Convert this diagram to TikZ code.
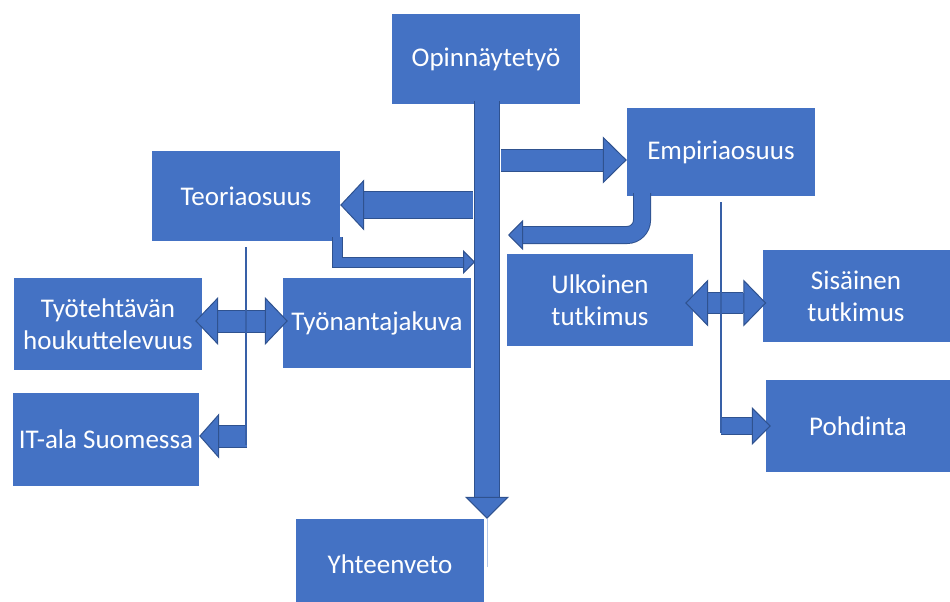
\documentclass[tikz,border=0pt]{standalone}
\usepackage{fontspec}
\setmainfont{Carlito}
\usetikzlibrary{arrows.meta}
\definecolor{boxblue}{HTML}{4472C4}
\definecolor{edgeblue}{HTML}{2F528F}

\begin{document}
\begin{tikzpicture}[x=1pt, y=-1pt,
    blk/.style n args={3}{draw=boxblue, line width=#1,
        -{Triangle[length=#2, width=#3, line width=1pt, color=edgeblue, fill=boxblue]},
        preaction={-, draw=edgeblue, line width=#1+2pt, shorten >=#2}},
    blkboth/.style n args={3}{draw=boxblue, line width=#1,
        {Triangle[length=#2, width=#3, line width=1pt, color=edgeblue, fill=boxblue]}-{Triangle[length=#2, width=#3, line width=1pt, color=edgeblue, fill=boxblue]},
        preaction={-, draw=edgeblue, line width=#1+2pt, shorten >=#2, shorten <=#2}}]
    \tikzstyle{box} = [fill=boxblue, text=white, minimum width=188pt, minimum height=90pt, inner sep=0pt, align=center, font=\fontsize{27}{32}\selectfont]
    \tikzstyle{thinline} = [draw=edgeblue!55!boxblue, line width=2.2pt]

    \useasboundingbox (0,0) rectangle (950,602);

    % Main parts
    \node[box] (opin) at (486,59) {Opinnäytetyö};
    \node[box, minimum height=88pt] (emp) at (721,152) {Empiriaosuus};
    \node[box] (teo) at (246,196) {Teoriaosuus};
    \node[box] (yht) at (390,564) {Yhteenveto};

    % Theory side (left)
    \node[box, minimum height=92pt] (tyot) at (108,324) {Työtehtävän\\houkuttelevuus};
    \node[box] (tyon) at (377,323) {Työnantajakuva};
    \node[box, minimum width=186pt, minimum height=93pt] (it) at (106,439) {IT-ala Suomessa};

    % Empirical side (right)
    \node[box, minimum width=186pt, minimum height=92pt] (ulk) at (600,300) {Ulkoinen\\tutkimus};
    \node[box, minimum width=187pt, minimum height=92pt] (sis) at (856,296) {Sisäinen\\tutkimus};
    \node[box, minimum width=184pt, minimum height=92pt] (poh) at (858,426) {Pohdinta};

    % Free ends on the spine
    \coordinate (teostart) at (473,205);
    \coordinate (empstart) at (501,160);
    \coordinate (embend) at (642,193);
    \coordinate (emback) at (508,235);
    \coordinate (teobend) at (337,237);
    \coordinate (teoback) at (475,262);
    \coordinate (tyomid) at (241,321);
    \coordinate (itstart) at (247,436);
    \coordinate (utmid) at (721,303);
    \coordinate (yhttail) at (487,567);

    \draw[blk={24pt}{22pt}{44pt}] ([xshift=1pt, yshift=3pt]opin.south) -- ([xshift=1pt]opin.south |- yht.north);
    \draw[line width=0.8pt, boxblue!40] ([xshift=1pt]opin.south |- yht.north) -- (yhttail);
    \draw[blk={21pt}{24pt}{47pt}] (empstart) -- (emp.west |- empstart);
    \draw[blk={26pt}{24pt}{51pt}] (teostart) -- (teo.east |- teostart);
    \draw[blk={16pt}{15pt}{30pt}, rounded corners=15pt] (embend) |- (emback);
    \draw[blk={9pt}{12pt}{24pt}] (teobend) |- (teoback);

    \draw[blkboth={21pt}{23pt}{48pt}] ([xshift=-7pt]tyot.east |- tyomid) -- ([xshift=5pt]tyon.west |- tyomid);
    \draw[blk={21pt}{20pt}{45pt}] (itstart) -- (it.east |- itstart);
    \draw[blkboth={20pt}{23pt}{47pt}] ([xshift=-8pt]ulk.east |- utmid) -- ([xshift=4pt]sis.west |- utmid);
    \draw[blk={16pt}{19pt}{38pt}] (emp.south |- poh.west) -- ([xshift=5pt]poh.west);

    \draw[thinline, shorten >=-9pt] ([yshift=-6pt]teo.south) -- (teo.south |- itstart);
    \draw[thinline, shorten >=-7pt] ([yshift=-6pt]emp.south) -- (emp.south |- poh.west);
\end{tikzpicture}
\end{document}
